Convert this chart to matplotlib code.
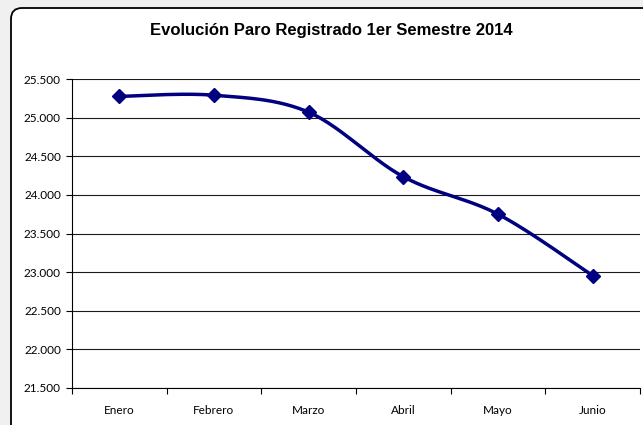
import numpy as np
import matplotlib.pyplot as plt
from matplotlib.patches import FancyBboxPatch
from matplotlib.transforms import IdentityTransform

meses = ['Enero', 'Febrero', 'Marzo', 'Abril', 'Mayo', 'Junio']
paro = [25275, 25290, 25070, 24235, 23750, 22955]
y_ticks = [21500, 22000, 22500, 23000, 23500, 24000, 24500, 25000, 25500]
titulo = 'Evolución Paro Registrado 1er Semestre 2014'


def smooth_line(xs, ys, n=30):
    # bezier smoothing like excel's "smoothed line"
    pts = np.column_stack([xs, ys]).astype(float)
    pad = np.vstack([pts[0], pts, pts[-1]])
    out = []
    for i in range(len(pts) - 1):
        p0, p1, p2, p3 = pad[i], pad[i + 1], pad[i + 2], pad[i + 3]
        c1 = p1 + (p2 - p0) / 6
        c2 = p2 - (p3 - p1) / 6
        t = np.linspace(0, 1, n)[:, None]
        seg = (1 - t)**3 * p1 + 3 * (1 - t)**2 * t * c1 + 3 * (1 - t) * t**2 * c2 + t**3 * p2
        out.append(seg if i == 0 else seg[1:])
    out = np.vstack(out)
    return out[:, 0], out[:, 1]


def main():
    W, H = 643, 425
    fig = plt.figure(figsize=(W / 100, H / 100), dpi=100, facecolor='#f0f0f0')

    box = FancyBboxPatch((11, -30), 700, 447, boxstyle='round,pad=0,rounding_size=11',
                         transform=IdentityTransform(), facecolor='white',
                         edgecolor='black', linewidth=1.3, zorder=-5)
    fig.patches.append(box)

    left, right, top, bottom = 72, 640, 79, 388
    ax = fig.add_axes([left / W, (H - bottom) / H, (right - left) / W, (bottom - top) / H])
    ax.set_zorder(2)
    ax.set_facecolor('none')

    x = np.arange(len(meses)) + 0.5
    sx, sy = smooth_line(x, paro)
    ax.plot(sx, sy, color='#000080', linewidth=2.5, solid_capstyle='round', zorder=3)
    ax.plot(x, paro, linestyle='none', marker='D', markersize=7.5,
            color='#000080', zorder=4, clip_on=False)

    ax.set_xlim(0, len(meses))
    ax.set_ylim(21500, 25500)
    ax.set_yticks(y_ticks)
    ax.set_yticklabels([f'{v:,}'.replace(',', '.') for v in y_ticks],
                       fontsize=8.5, family='Lato')
    ax.set_xticks(np.arange(len(meses) + 1))
    ax.set_xticklabels([])
    ax.set_xticks(x, minor=True)
    ax.set_xticklabels(meses, minor=True, fontsize=8.5, family='Lato')
    ax.tick_params(axis='x', which='minor', length=0, pad=12)
    ax.tick_params(axis='x', which='major', length=4, width=0.8, direction='out')
    ax.tick_params(axis='y', length=4, width=0.8, direction='out', pad=4)

    ax.grid(axis='y', color='#1a1a1a', linewidth=0.8)
    ax.set_axisbelow(True)
    for s in ['top', 'right']:
        ax.spines[s].set_visible(False)
    for s in ['left', 'bottom']:
        ax.spines[s].set_linewidth(0.8)

    fig.text(331 / W, 1 - 31 / H, titulo, ha='center', va='center',
             fontsize=12, fontweight='bold', family='Liberation Sans')

    fig.savefig('out.png', dpi=100, facecolor=fig.get_facecolor())


if __name__ == '__main__':
    main()
